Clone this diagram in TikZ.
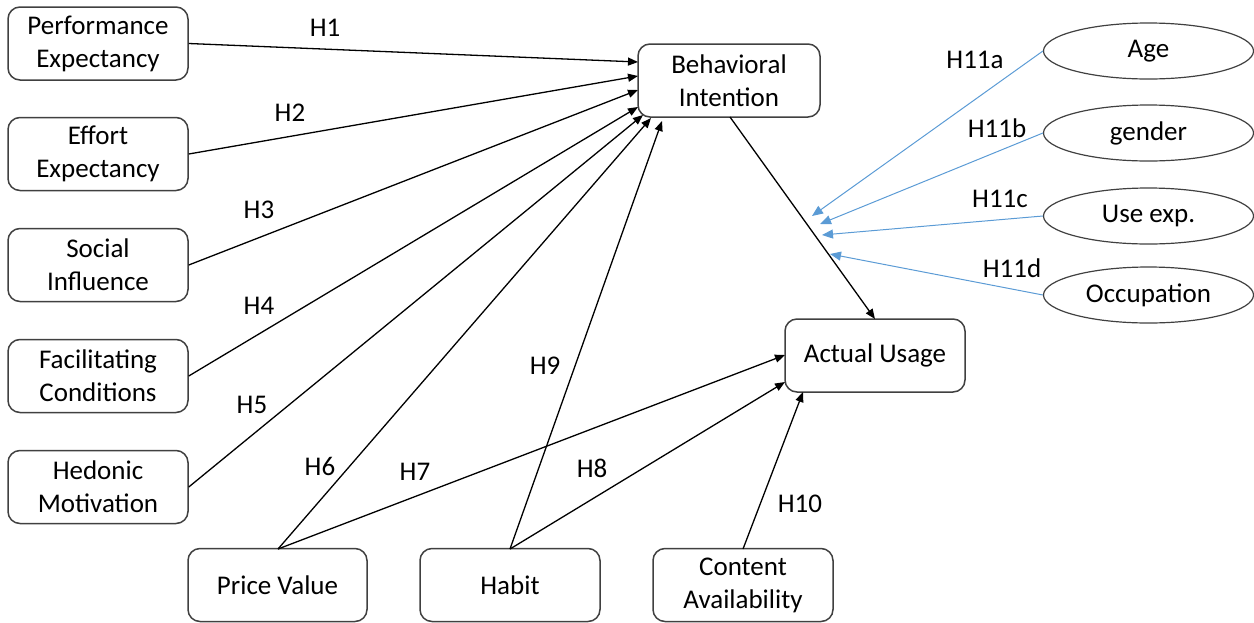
\documentclass[tikz,border=0pt]{standalone}
\usepackage{fontspec}
\setmainfont{Carlito}
\usetikzlibrary{arrows.meta,shapes.geometric}
\definecolor{boxline}{HTML}{404040}
\definecolor{modblue}{HTML}{5B9BD5}
\begin{document}
\begin{tikzpicture}[x=0.5pt,y=-0.5pt,
  every node/.style={font=\fontsize{13.5}{16.5}\selectfont},
  cbox/.style={draw=boxline,line width=0.75pt,rounded corners=6pt,fill=white,
    minimum width=90pt,minimum height=36.5pt,align=center,inner sep=2pt},
  mod/.style={draw=boxline,line width=0.6pt,ellipse,minimum width=105pt,minimum height=28pt,inner sep=0pt},
  link/.style={draw=black,line width=0.65pt,-{Triangle[length=5pt,width=4pt]}},
  mlink/.style={draw=modblue,line width=0.5pt,-{Triangle[length=5.5pt,width=4.5pt]}},
  hl/.style={inner sep=0pt}]
\useasboundingbox (0,0) rectangle (1254,622);
% nodes
\node[cbox] (pe) at (98,43.5) {Performance\\Expectancy};
\node[cbox] (ee) at (98,154) {Effort\\Expectancy};
\node[cbox] (si) at (98,265) {Social\\Influence};
\node[cbox] (fc) at (98,376) {Facilitating\\Conditions};
\node[cbox] (hm) at (98,487) {Hedonic\\Motivation};
\node[cbox,minimum width=91pt] (bi) at (729,80.5) {Behavioral\\Intention};
\node[cbox] (au) at (875,355.5) {Actual Usage};
\node[cbox,minimum width=89.5pt] (pv) at (277.5,585) {Price Value};
\node[cbox] (hb) at (510,585) {Habit};
\node[cbox] (ca) at (743,585) {Content\\Availability};
\node[mod] (age) at (1148.5,51) {Age};
\node[mod] (gen) at (1148.5,133) {gender};
\node[mod] (use) at (1148.5,216) {Use exp.};
\node[mod] (occ) at (1148.5,295) {Occupation};
% target coordinates
\coordinate (t1) at (638,62);
\coordinate (t2) at (638,76);
\coordinate (t3) at (638,90);
\coordinate (t4) at (638,107);
\coordinate (t5) at (643,115);
\coordinate (t6) at (651,118);
\coordinate (t9) at (662,121);
\coordinate (biout) at (730,117);
\coordinate (au1) at (875,319);
\coordinate (t7) at (785,355);
\coordinate (t8) at (785,382);
\coordinate (t10) at (803,392);
\coordinate (m1) at (812,216);
\coordinate (m2) at (820,224);
\coordinate (m3) at (822,235);
\coordinate (m4) at (830,254);
\coordinate (pvt) at (278,549);
\coordinate (hbt) at (510,549);
\coordinate (cat) at (743,549);
% connectors
\draw[link] (pe.east) -- (t1);
\draw[link] (ee.east) -- (t2);
\draw[link] (si.east) -- (t3);
\draw[link] (fc.east) -- (t4);
\draw[link] (hm.east) -- (t5);
\draw[link] (pvt) -- (t6);
\draw[link] (hbt) -- (t9);
\draw[link] (biout) -- (au1);
\draw[link] (pvt) -- (t7);
\draw[link] (hbt) -- (t8);
\draw[link] (cat) -- (t10);
\draw[mlink] (age.west) -- (m1);
\draw[mlink] (gen.west) -- (m2);
\draw[mlink] (use.west) -- (m3);
\draw[mlink] (occ.west) -- (m4);
% labels
\node[hl] (l1) at (325,28) {H1};
\node[hl] (l2) at (290,113) {H2};
\node[hl] (l3) at (259,210) {H3};
\node[hl] (l4) at (259,306) {H4};
\node[hl] (l5) at (252,405) {H5};
\node[hl] (l6) at (320,466) {H6};
\node[hl] (l7) at (415,472) {H7};
\node[hl] (l8) at (592,468) {H8};
\node[hl] (l9) at (545,366) {H9};
\node[hl] (l10) at (800,504) {H10};
\node[hl] (l11a) at (975,60) {H11a};
\node[hl] (l11b) at (997,128) {H11b};
\node[hl] (l11c) at (1000,199) {H11c};
\node[hl] (l11d) at (1012,268) {H11d};
\end{tikzpicture}
\end{document}
